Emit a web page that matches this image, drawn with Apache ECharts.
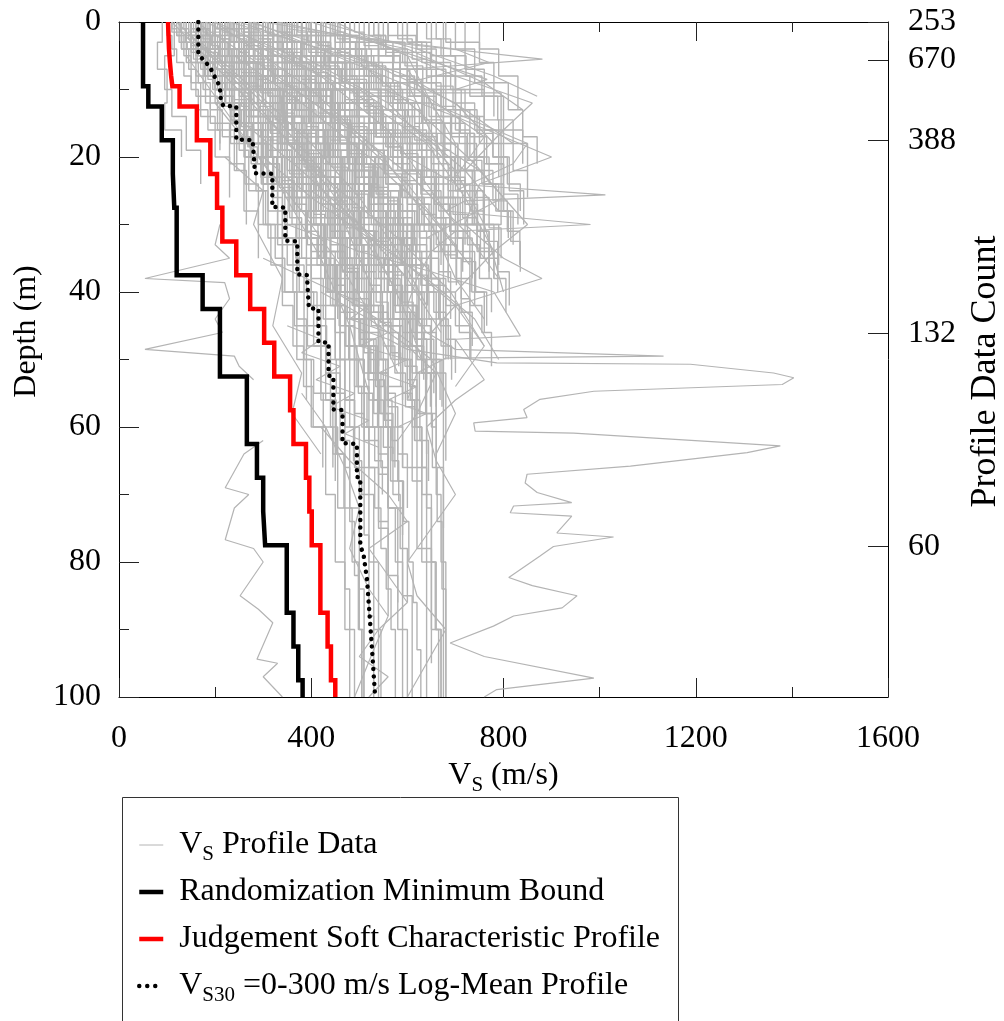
<!DOCTYPE html>
<html>
<head>
<meta charset="utf-8">
<script src="https://cdn.jsdelivr.net/npm/echarts@6/dist/echarts.min.js"></script>
<style>
  html, body { margin: 0; padding: 0; background: #fff; }
  #chart { width: 1004px; height: 1021px; }
</style>
</head>
<body>
<div id="chart"></div>
<script>
// ---- Randomization minimum bound (layer tops in m, Vs in m/s) ----
const minBoundTops = [0, 9.5, 12.5, 17.5, 22.5, 27.5, 37.5, 42.5, 52.5, 62.5, 67.5, 72.5, 77.5, 87.5, 92.5, 97.5, 100];
const minBoundVs   = [50, 61, 89, 112, 115, 120, 174, 210, 266, 287, 300, 304, 349, 363, 373, 382];

// ---- Judgement soft characteristic profile ----
const softCurveDepths = [0, 2, 4, 6, 8, 9.5];
const softCurveVs     = [102, 103, 104, 106, 108.5, 111];
const softLayerTops = [9.5, 12.5, 17.5, 22.5, 27.5, 32.5, 37.5, 42.5, 47.5, 52.5, 57.5, 62.5, 67.5, 72.5, 77.5, 87.5, 92.5, 97.5, 100];
const softLayerVs   = [126, 162, 190, 204, 215, 244, 273, 302, 323, 356, 363, 389, 396, 401, 419, 434, 441, 450];

// ---- Vs30 = 0-300 m/s log-mean profile (vertices) ----
const logMeanDepths = [0, 4.6, 5.1, 6.0, 6.8, 8.1, 8.8, 9.8, 11.7, 12.4, 12.5, 17.4, 17.5, 22.4, 22.5, 27.4, 27.5, 32.4, 32.5, 37.4, 37.5, 42.4, 42.5, 47.4, 47.5, 52.4, 52.5, 57.4, 57.5, 62.4, 62.5, 67.4, 67.5, 77.5, 79, 82.6, 87.5, 92.5, 100];
const logMeanVs     = [165, 165, 169, 181, 190, 199, 205, 210, 212, 217, 244, 244, 278, 283, 319, 319, 346, 346, 371, 371, 391, 395, 415, 415, 436, 436, 446, 446, 465, 465, 495, 495, 502, 502, 509, 516, 521, 526, 533];

// ---- Profile data count (right axis) ----
const countDepths = [0, 5.6, 17.5, 46.1, 77.7];
const countLabels = ['253', '670', '388', '132', '60'];

// ---- Vs profile data, layered: [top0, vs0, top1, vs1, ..., bottom] ----
const vsLayeredProfiles = [
  [0,120, 2,135, 5,150, 9,170, 14,200, 20,230, 26],
  [0,140, 3,150, 6,175, 10,190, 15,230, 21,260, 28,290, 35],
  [0,110, 1.5,130, 4,160, 8,180, 12,210, 18],
  [0,160, 2,170, 5,190, 8,230, 13,250, 19,270, 25,310, 32,340, 40],
  [0,130, 4,145, 7,160, 11,205, 16,240, 22,265, 30],
  [0,180, 3,200, 7,220, 12,260, 18,300, 24,330, 33,370, 44,390, 56],
  [0,150, 2,165, 4,185, 7,210, 11,240, 15],
  [0,200, 2,215, 5,240, 9,270, 14,300, 20,320, 27],
  [0,170, 3,185, 6,205, 10,235, 15,275, 21,310, 28,350, 36,385, 45,420, 55,450, 68],
  [0,125, 3,140, 6,165, 9,190, 13,215, 17,245, 22],
  [0,220, 3,250, 6,290, 10,330, 16,370, 22,410, 30,440, 38],
  [0,240, 2,260, 5,300, 9,340, 14,380, 20,420, 27,460, 35,500, 45],
  [0,190, 4,230, 8,280, 13,310, 19,360, 25,400, 33],
  [0,260, 3,300, 7,350, 12,400, 18,440, 25,480, 33,510, 42,540, 52,560, 65],
  [0,210, 2,240, 5,270, 8,320, 12,360, 17,390, 23],
  [0,280, 4,320, 8,360, 13,410, 19,450, 26,490, 34],
  [0,230, 3,270, 7,310, 11,350, 16,390, 22,430, 29,470, 37,500, 47,530, 58,560, 72,590, 85,610, 100],
  [0,300, 3,340, 6,380, 10,420, 15,460, 21,500, 28],
  [0,250, 5,280, 10,330, 15,370, 20,410, 26,440, 33,470, 40,490, 48],
  [0,200, 1,230, 3,260, 6,300, 10,340, 15,380, 20],
  [0,320, 3,350, 6,390, 10,430, 15,480, 21,520, 28,560, 36],
  [0,270, 4,300, 9,340, 14,380, 21,420, 29,460, 38,480, 50,510, 62,540, 75,560, 88],
  [0,350, 2,380, 5,420, 9,460, 14,500, 20,540, 27],
  [0,180, 2,210, 5,250, 9,290, 14,330, 19],
  [0,290, 2,310, 6,350, 11,390, 17,430, 24,470, 32,520, 42,550, 54],
  [0,380, 3,420, 7,470, 12,520, 18,560, 25,600, 33],
  [0,400, 2,440, 5,490, 9,540, 15,590, 22,630, 30],
  [0,340, 4,390, 8,440, 13,490, 19,540, 26,580, 34,610, 44],
  [0,450, 3,500, 7,560, 12,610, 18,650, 25],
  [0,420, 4,470, 9,520, 15,580, 22,620, 30,650, 39,680, 50],
  [0,500, 3,540, 7,600, 12,650, 18,700, 25,720, 33],
  [0,360, 2,400, 5,450, 10,500, 16,560, 23,600, 31,640, 40,660, 52,680, 65],
  [0,550, 4,600, 9,660, 15,720, 22,760, 30],
  [0,480, 5,530, 10,590, 16,640, 23,690, 31,730, 40],
  [0,600, 3,640, 8,700, 14,760, 21,800, 28],
  [0,330, 3,370, 7,410, 12,460, 18,510, 25,550, 33,580, 42,600, 53,620, 66,640, 80,650, 95],
  [0,430, 2,470, 6,520, 11,570, 17,620, 24],
  [0,520, 4,570, 9,630, 15,690, 22,740, 30,780, 38],
  [0,650, 5,700, 10,760, 16,800, 23],
  [0,380, 6,430, 12,490, 19,540, 27,590, 36,630, 46,660, 58],
  [0,260, 5,300, 10,350, 20,400, 30,430, 40,460, 50,480, 60,500, 70,520, 80,530, 90,540, 100],
  [0,300, 4,340, 9,390, 16,440, 24,490, 33,530, 43,560, 54,590, 66,620, 78,650, 90,670, 100],
  [0,200, 3,240, 8,290, 15,330, 23,370, 32,400, 42,430, 52,460, 62,480, 72,500, 84,510, 100],
  [0,675, 100],
  [0,240, 6,280, 12,330, 20,380, 28,420, 36,450, 46,470, 56,490, 66,510, 76,520, 88,530, 100],
  [0,350, 5,400, 10,450, 17,500, 25,540, 35,570, 45,590, 55,610, 68,630, 80,640, 100],
  [0,420, 4,480, 10.5,795, 30,560, 40,600, 48],
  [0,380, 7,520, 16.5,739, 30,600, 38],
  [0,280, 3,330, 8,380, 14,430, 21,470, 30,500, 40,520, 50,540, 60,560, 72,580, 86],
  [0,150, 2,180, 6,220, 12,260, 20,300, 30,340, 40,370, 50,400, 60,430, 70,450, 80,470, 90,490, 100],
  [0,170, 1,190, 3,220, 5,250, 8,290, 12],
  [0,230, 2,260, 4,290, 7,330, 10,370, 14],
  [0,310, 2,330, 4,360, 7,400, 11,440, 16],
  [0,390, 3,410, 6,450, 10,490, 14],
  [0,470, 2,500, 5,540, 9,580, 13],
  [0,560, 3,590, 6,620, 10],
  [0,140, 2,160, 4,180, 6,200, 9,220, 12],
  [0,250, 1,270, 3,300, 5,330, 8,360, 11,400, 15,430, 20],
  [0,190, 3,210, 6,240, 9,270, 13,310, 17,350, 22,380, 27],
  [0,700, 4,740, 9,780, 14],
  [0,330, 5,360, 10,400, 15,440, 20,470, 25,500, 30],
  [0,210, 4,250, 8,300, 12,350, 17,400, 23,450, 29,490, 36],
  [0,440, 4,480, 8,540, 13,600, 19,650, 26,700, 34,740, 42],
  [0,160, 5,200, 10,240, 15,280, 20,320, 25,360, 30,400, 35,430, 40],
  [0,270, 2,290, 5,320, 9,350, 13,380, 18,420, 24,450, 31,480, 39],
  [0,90, 3,80, 7,100, 12,95, 16,130, 20],
  [0,115, 5,95, 10,110, 14,140, 19,170, 24],
  [0,185, 2,205, 4,235, 7,265, 10,300, 14,335, 18,365, 23,395, 29,420, 35],
  [0,345, 3,365, 6,395, 9,425, 13,455, 17,490, 22,520, 28,545, 34],
  [0,235, 3,255, 6,285, 10,315, 14,345, 18,380, 23,410, 28,440, 34,470, 41,500, 48],
  [0,410, 3,440, 6,470, 9,510, 13,550, 18,590, 24,610, 30],
  [0,150, 1,160, 2,175, 3,190, 4.5,205, 6,220, 8,240, 10,255, 12.5,270, 15,290, 18,310, 21],
  [0,175, 1.5,185, 3,200, 5,215, 7,235, 9,255, 11,275, 14,295, 17,320, 20,345, 24,365, 28],
  [0,205, 1,215, 2.5,230, 4,250, 6,270, 8,295, 10.5,320, 13,345, 16,370, 19,395, 23,420, 27,445, 32],
  [0,230, 1,245, 2,260, 3.5,280, 5,300, 7,325, 9,350, 11.5,375, 14,400, 17,425, 21,450, 25,475, 30],
  [0,260, 1.5,275, 3,295, 5,320, 7,345, 9.5,370, 12,395, 15,425, 18,455, 22,485, 26,510, 31,535, 37],
  [0,285, 1,300, 2.5,320, 4,345, 6,370, 8,395, 10.5,420, 13,450, 16,480, 19.5,505, 23,530, 28,555, 33],
  [0,310, 2,330, 4,355, 6,380, 8.5,410, 11,440, 14,470, 17,500, 21,530, 25,560, 30,585, 36],
  [0,335, 1.5,355, 3,380, 5,405, 7.5,435, 10,465, 13,495, 16,525, 20,555, 24,585, 29,610, 35],
  [0,365, 2,385, 4,410, 6.5,440, 9,470, 12,500, 15,530, 19,560, 23,590, 28,620, 34],
  [0,395, 1.5,415, 3.5,440, 6,470, 8.5,500, 11.5,530, 15,560, 18.5,590, 22.5,620, 27,650, 32],
  [0,425, 2,450, 4.5,480, 7,510, 10,540, 13,570, 16.5,600, 20,630, 24,660, 29],
  [0,455, 2,480, 4,505, 6.5,535, 9,565, 12,595, 15.5,625, 19,655, 23,685, 28],
  [0,490, 1.5,510, 3.5,540, 6,570, 9,600, 12,630, 15,660, 19,690, 23,720, 27],
  [0,530, 2,555, 5,585, 8,615, 11,645, 14,675, 18,705, 22,735, 26],
  [0,580, 2.5,610, 5.5,640, 9,670, 12.5,700, 16,730, 20,760, 25],
  [0,620, 3,650, 6,690, 10,720, 14,750, 18,790, 23],
  [0,680, 3,720, 7,760, 11,800, 16,840, 21],
  [0,750, 4,790, 8,830, 13],
  [0,135, 1,145, 2.5,155, 4,170, 6,185, 8,200, 10,220, 12.5,240, 15,260, 18],
  [0,100, 2,110, 4,120, 6,135, 8,150, 10,165, 13,185, 16,210, 19],
  [0,165, 2,180, 4,200, 7,225, 10,250, 13,280, 16,305, 20,330, 24,355, 29,380, 35,400, 42],
  [0,195, 2,210, 4,235, 6,260, 9,290, 12,320, 15,350, 18,380, 22,410, 26,440, 31,465, 37,490, 44],
  [0,245, 3,270, 6,300, 9,335, 12,365, 16,400, 20,430, 25,460, 30,490, 36,515, 43,540, 50],
  [0,300, 2,320, 5,350, 8,385, 11,420, 14,455, 18,490, 22,520, 27,550, 33,575, 40,600, 47],
  [0,355, 3,380, 6,410, 9,445, 13,480, 17,515, 21,550, 26,580, 32,610, 38,640, 45],
  [0,410, 3,435, 6,465, 9,500, 13,535, 17,570, 21,605, 26,635, 31,665, 37,690, 44],
  [0,470, 3,500, 6,535, 10,570, 14,605, 18,640, 22,675, 27,705, 32,735, 38],
  [0,540, 3,570, 7,605, 11,640, 15,675, 20,710, 25,745, 31,770, 37],
  [0,220, 4,260, 8,300, 12,340, 17,380, 22,410, 28,440, 34,470, 40,500, 46,520, 52,545, 58,570, 64],
  [0,270, 5,310, 10,350, 15,390, 20,430, 26,460, 32,490, 38,515, 44,540, 50,560, 57,580, 64,600, 72],
  [0,320, 4,360, 9,400, 14,440, 19,480, 25,510, 31,540, 37,570, 44,595, 51,620, 58,640, 66],
  [0,190, 5,230, 10,270, 15,310, 20,345, 26,375, 32,400, 38,425, 44,450, 50,470, 56,490, 62],
  [0,390, 5,430, 10,470, 15,510, 21,550, 27,580, 33,610, 40,635, 47,655, 55],
  [0,250, 6,290, 12,330, 18,370, 24,400, 30,420, 36,445, 42,470, 48,495, 54,520, 60,540, 67,560, 74],
  [0,360, 6,400, 12,450, 18,500, 24,540, 30,570, 36,600, 42,620, 50,640, 58,660, 66,675, 75],
  [0,280, 7,330, 14,380, 21,420, 28,455, 35,485, 42,510, 49,530, 56,550, 63,570, 70,585, 78,600, 86],
  [0,310, 8,360, 16,410, 24,450, 32,480, 40,500, 48,520, 56,540, 64,560, 72,575, 80,590, 90,600, 100],
  [0,230, 6,270, 12,320, 18,360, 26,400, 34,430, 42,460, 50,490, 58,510, 66,540, 74,560, 82,580, 90,590, 100],
  [0,400, 8,450, 16,500, 24,540, 32,570, 40,590, 50,610, 60,630, 70,650, 80,660, 90,670, 100],
  [0,340, 10,380, 20,420, 30,460, 40,490, 50,510, 60,520, 70,530, 80,540, 90,545, 100],
  [0,270, 5,310, 10,350, 18,390, 26,420, 34,440, 42,450, 50,460, 58,470, 66,480, 74,490, 82,500, 90,505, 100],
  [0,450, 10,500, 20,550, 30,600, 40,630, 50,650, 60,660, 70,670, 80,680, 100],
  [0,290, 12,340, 24,390, 36,420, 48,440, 60,455, 72,470, 84,480, 100],
  [0,155, 1.5,170, 3,185, 4.5,200, 6,215, 7.5,230, 9,250, 11,270, 13,290, 15,310, 17.5,330, 20,350, 23,370, 26,390, 30],
  [0,215, 1.5,230, 3,250, 4.5,270, 6,290, 8,310, 10,335, 12,360, 14,385, 16.5,410, 19,435, 22,460, 25,485, 28,505, 32,525, 36],
  [0,275, 1.5,295, 3,315, 5,340, 7,365, 9,390, 11,415, 13.5,445, 16,475, 19,505, 22,535, 25.5,560, 29,585, 33,605, 38],
  [0,340, 1.5,360, 3,385, 5,410, 7,440, 9,470, 11.5,500, 14,530, 17,560, 20,590, 23.5,620, 27,645, 31,670, 36],
  [0,400, 2,425, 4,455, 6,485, 8.5,515, 11,545, 14,575, 17,605, 20,635, 24,665, 28,690, 32,715, 37],
  [0,470, 2,495, 4,525, 6.5,555, 9,585, 12,615, 15,645, 18,675, 22,705, 26,735, 30,760, 35],
  [0,560, 2,590, 4.5,620, 7,650, 10,680, 13,710, 16.5,740, 20,770, 24,800, 28,820, 33],
  [0,640, 2.5,670, 5,700, 8,730, 11,760, 14.5,790, 18,820, 22,850, 26],
  [0,720, 3,750, 6,780, 9,810, 13,840, 17,870, 21],
  [0,180, 2,195, 4,215, 6,240, 8,265, 10,290, 12.5,315, 15,340, 18,365, 21,390, 24,415, 28,440, 32,465, 37,490, 42,510, 48],
  [0,210, 2.5,230, 5,255, 7.5,285, 10,315, 13,345, 16,375, 19,405, 22,435, 26,465, 30,495, 34,520, 39,545, 44,565, 50],
  [0,250, 2,270, 4,295, 6.5,325, 9,355, 12,385, 15,415, 18,445, 21.5,475, 25,505, 29,535, 33,560, 38,585, 43,605, 49],
  [0,290, 2.5,315, 5,345, 8,375, 11,405, 14,440, 17.5,475, 21,510, 25,540, 29,570, 34,595, 39,620, 45],
  [0,330, 2,350, 4.5,380, 7,415, 10,450, 13,485, 16.5,520, 20,555, 24,585, 28,615, 33,640, 38,665, 44],
  [0,370, 2,395, 4.5,425, 7,460, 10,495, 13,530, 16.5,565, 20,600, 24,630, 28.5,660, 33,685, 38],
  [0,440, 2,465, 4,495, 7,525, 10,560, 13,595, 16.5,630, 20,665, 24,695, 28.5,725, 33,750, 38,775, 43],
  [0,510, 2.5,540, 5,570, 8,600, 11,635, 14.5,670, 18,705, 22,740, 26,770, 30.5,795, 35],
  [0,600, 3,630, 6,660, 9.5,695, 13,730, 17,765, 21,800, 25.5,830, 30],
  [0,130, 1,140, 2,150, 3.5,165, 5,180, 7,195, 9,215, 11,235, 13,255, 15.5,280, 18,305, 21,330, 24],
  [0,145, 1.5,160, 3,175, 5,195, 7,215, 9,240, 11.5,265, 14,290, 17,315, 20,340, 23.5,365, 27,390, 31,415, 35],
  [0,165, 1,175, 2.5,190, 4,210, 6,230, 8,255, 10.5,280, 13,305, 16,330, 19,355, 22.5,380, 26,405, 30,430, 34,450, 39,470, 44],
  [0,195, 1.5,210, 3,228, 5,250, 7,275, 9.5,300, 12,325, 14.5,350, 17.5,375, 20.5,400, 24,425, 28,450, 32,475, 36.5,500, 41,520, 46,540, 51],
  [0,225, 2,240, 4,262, 6,285, 8.5,310, 11,338, 13.5,365, 16.5,392, 19.5,420, 23,448, 26.5,475, 30.5,500, 35,525, 40,548, 45,570, 50,590, 56],
  [0,255, 1.5,272, 3.5,295, 5.5,320, 8,348, 10.5,376, 13,405, 16,434, 19,462, 22,490, 25.5,518, 29,545, 33,570, 37.5,595, 42,618, 47,640, 53],
  [0,315, 2,335, 4,360, 6.5,388, 9,418, 12,448, 15,478, 18,508, 21.5,538, 25,565, 29,592, 33,618, 37.5,642, 42],
  [0,380, 2,400, 4,428, 6.5,458, 9,490, 12,522, 15,555, 18.5,588, 22,620, 26,650, 30,678, 34.5,702, 39],
  [0,455, 2.5,480, 5,510, 8,545, 11,580, 14,615, 17.5,650, 21,685, 25,715, 29,745, 33.5,770, 38],
  [0,530, 2,555, 4.5,585, 7,620, 10,655, 13,690, 16.5,725, 20,760, 24,790, 28,815, 32.5,835, 37],
  [0,260, 4,290, 8,325, 12,360, 16,395, 20,425, 25,455, 30,480, 35,505, 40,525, 45,545, 50,560, 55,575, 60,590, 66],
  [0,300, 4,330, 8,365, 12,400, 16,435, 20,465, 25,495, 30,520, 35,545, 40,565, 45,585, 50,600, 56,615, 62,630, 68],
  [0,340, 5,375, 10,415, 15,455, 20,490, 25,520, 30,545, 35,570, 40,590, 46,610, 52,625, 58,640, 64],
  [0,210, 4,245, 8,280, 12,315, 16,345, 20,375, 25,400, 30,425, 35,448, 40,470, 45,490, 50,510, 55,528, 60,545, 66,560, 72],
  [0,240, 3,265, 6,295, 10,330, 14,362, 18,392, 22,420, 27,448, 32,472, 37,495, 42,515, 47,535, 53,552, 59,568, 65,582, 71],
  [0,420, 4,455, 8,495, 12,535, 17,570, 22,600, 27,625, 32,648, 38,668, 44,685, 50],
  [0,480, 4,515, 8,555, 13,595, 18,630, 23,660, 29,690, 35,712, 41,730, 47],
  [0,320, 5,355, 10,395, 15,430, 20,460, 26,485, 32,505, 38,525, 44,540, 50,555, 56,568, 62,580, 68,592, 74,603, 80,612, 86,620, 93,628, 100],
  [0,260, 6,300, 12,340, 18,375, 24,405, 30,430, 36,452, 42,472, 48,490, 54,505, 60,520, 66,532, 72,545, 78,556, 84,566, 90,575, 100],
  [0,380, 6,420, 12,460, 18,495, 24,525, 30,550, 36,572, 42,590, 48,605, 54,618, 60,630, 66,640, 72,650, 80,658, 90,665, 100],
  [0,430, 7,470, 14,510, 21,545, 28,575, 35,600, 42,620, 50,638, 58,652, 66,662, 74,672, 84,680, 100],
  [0,220, 8,260, 16,300, 24,340, 32,375, 40,405, 48,430, 56,452, 64,470, 72,485, 80,498, 90,508, 100],
  [0,110, 1,120, 2,130, 3,142, 4,155, 5.5,170, 7,185, 8.5,200, 10,215, 12,232, 14,250, 16,268, 18.5,288, 21,308, 24],
  [0,128, 1.5,138, 3,150, 4.5,163, 6,178, 8,195, 10,213, 12,232, 14.5,252, 17,273, 20,295, 23,318, 26,340, 30],
  [0,172, 1,182, 2,193, 3.5,207, 5,222, 6.5,238, 8,255, 10,274, 12,294, 14,315, 16.5,337, 19,360, 22,383, 25,405, 28.5,428, 32],
  [0,238, 1,250, 2.5,266, 4,283, 5.5,302, 7,322, 9,344, 11,367, 13,390, 15.5,414, 18,438, 21,462, 24,486, 27.5,510, 31,532, 35,552, 40],
  [0,305, 1.5,322, 3,342, 4.5,363, 6,385, 8,408, 10,432, 12,456, 14.5,482, 17,508, 20,534, 23,560, 26.5,585, 30,608, 34,630, 39],
  [0,372, 1.5,392, 3,414, 5,438, 7,463, 9,489, 11,516, 13.5,544, 16,572, 19,600, 22,628, 25.5,655, 29,680, 33,702, 38],
  [0,445, 1.5,468, 3,492, 5,518, 7,545, 9,573, 11.5,602, 14,632, 17,662, 20,692, 23.5,720, 27,746, 31,770, 36],
  [0,520, 2,545, 4,572, 6,600, 8.5,630, 11,660, 14,692, 17,724, 20.5,755, 24,784, 28,810, 32],
  [0,590, 2,618, 4.5,648, 7,680, 10,712, 13,745, 16.5,778, 20,808, 24,835, 28],
  [0,660, 2.5,690, 5,722, 8,755, 11,788, 14.5,820, 18,850, 22],
  [0,285, 3,315, 6,350, 9,388, 12,425, 15,460, 18,495, 21,528, 24.5,560, 28,590, 32,618, 36,644, 40,668, 45,690, 50],
  [0,200, 3,225, 6,255, 9,288, 12,320, 15,352, 18,385, 21.5,418, 25,450, 29,480, 33,508, 37,535, 41.5,560, 46,582, 51],
  [0,350, 3,378, 6,410, 9,445, 12,480, 15.5,516, 19,552, 22.5,588, 26,622, 30,655, 34,685, 38.5,712, 43,735, 48],
  [0,410, 3,440, 6,474, 9,510, 12.5,548, 16,586, 19.5,622, 23,656, 27,688, 31,716, 35.5,742, 40,765, 45],
  [0,480, 3,512, 6,548, 9.5,586, 13,625, 16.5,662, 20,698, 24,730, 28,760, 32.5,788, 37,812, 42],
  [0,560, 3,595, 6.5,632, 10,670, 14,708, 18,744, 22,778, 26.5,808, 31,834, 36],
  [0,620, 4,660, 8,700, 12,740, 16,778, 20,812, 25,842, 30],
  [0,170, 4,200, 8,235, 12,270, 16,305, 20,338, 24,370, 28,400, 32,428, 36,455, 40,480, 44,503, 48,524, 52],
  [0,230, 4,262, 8,298, 12,335, 16,370, 20,404, 24,436, 28,466, 32,494, 36,520, 40,544, 44.5,566, 49,586, 54],
  [0,275, 4,310, 8,350, 12,390, 16,428, 20,464, 24,498, 28,530, 32.5,560, 37,588, 41.5,612, 46,634, 51],
  [0,150, 3,170, 6,195, 9,222, 12,250, 15,278, 18,306, 21,334, 24.5,362, 28,388, 32,412, 36,434, 40,455, 44],
  [0,320, 5,360, 10,405, 15,450, 20,492, 25,530, 30,565, 35,596, 40,624, 45,648, 50,668, 56],
  [0,460, 5,500, 10,545, 15,590, 20,632, 25,670, 30,704, 35,734, 40,760, 46],
  [0,540, 5,585, 10,632, 15,678, 20,720, 25,758, 30,790, 36],
  [0,260, 5,300, 10,345, 15,390, 20,430, 24,465, 28,500, 32,530, 36,560, 40,585, 44,610, 48,630, 52,648, 57],
  [0,300, 5,345, 10,395, 15,445, 19,490, 23,530, 27,565, 31,598, 35,628, 39,655, 43,680, 47,700, 52],
  [0,340, 5,390, 10,445, 14,500, 18,550, 22,595, 26,635, 30,670, 34,702, 38,730, 42,755, 46,775, 51],
  [0,380, 5,435, 10,495, 14,555, 18,610, 22,660, 26,705, 30,745, 34,780, 38,805, 43],
  [0,230, 4,265, 8,305, 12,345, 16,385, 20,420, 24,455, 28,488, 32,518, 36,546, 40,572, 44,596, 48,618, 52,638, 57],
  [0,280, 4,318, 8,360, 12,404, 16,446, 20,486, 24,522, 28,556, 32,588, 36,618, 40,645, 44,670, 48,692, 53],
  [0,200, 5,235, 10,275, 15,318, 20,360, 24,398, 28,434, 32,466, 36,496, 40,524, 44,550, 48,574, 52,596, 57,615, 62],
  [0,250, 5,290, 10,335, 15,380, 19,422, 23,462, 27,498, 31,532, 35,562, 39,590, 43,616, 47,640, 52,660, 57],
  [0,320, 6,370, 12,425, 17,478, 22,528, 26,572, 30,612, 34,648, 38,680, 42,708, 46,732, 50],
  [0,420, 6,480, 12,545, 17,605, 22,660, 26,710, 30,752, 35,788, 40],
  [0,180, 6,220, 12,265, 18,310, 23,352, 28,392, 33,428, 38,460, 43,490, 48,518, 53,542, 58],
  [0,270, 6,315, 12,365, 18,415, 23,460, 28,502, 33,540, 38,575, 43,606, 48,634, 53],
  [0,360, 7,415, 14,475, 20,532, 25,582, 30,626, 35,665, 40,700, 45,730, 50],
  [0,150, 4,180, 8,215, 12,252, 16,290, 20,328, 24,365, 28,400, 32,432, 36,462, 40,490, 44,515, 48,538, 52,560, 56],
  [0,190, 5,215, 10,240, 15,262, 20,285, 25,305, 30,325, 35,345, 40,365, 45,385, 50,405, 55,425, 60,445, 66],
  [0,210, 5,240, 10,270, 15,298, 20,322, 25,345, 30,368, 35,390, 40,412, 45,432, 50,452, 55,470, 60,488, 65,505, 70],
  [0,240, 5,272, 10,305, 15,336, 20,364, 25,390, 30,414, 35,437, 40,458, 45,478, 50,498, 55,516, 60,532, 65,548, 70],
  [0,170, 6,200, 12,232, 18,262, 24,290, 30,316, 36,340, 42,362, 48,384, 54,404, 60,424, 66],
  [0,330, 5,365, 10,400, 15,435, 20,468, 26,500, 32,530, 38,558, 44,584, 50,606, 56,626, 62,644, 68],
  [0,280, 5,310, 10,342, 15,375, 20,406, 25,435, 30,462, 36,488, 42,512, 48,534, 54,555, 60,574, 66],
  [0,360, 5,400, 10,442, 15,484, 20,524, 26,560, 32,594, 38,624, 44,650, 50,672, 57],
  [0,230, 8,262, 16,296, 24,330, 32,362, 40,392, 48,420, 56,445, 64,468, 72],
  [0,300, 10,350, 20,400, 28,440, 36,475, 44,508, 52,538, 60,565, 68,590, 76],
  [0,400, 10,455, 20,510, 28,555, 36,595, 44,630, 52,660, 60]
];

// ---- Vs profile data, point traces: [vs0, depth0, vs1, depth1, ...] ----
const vsTraceProfiles = [
  [480,45, 560,47, 600,48.5, 786,50.5, 1189,50.7, 1362,52, 1404,52.7, 1380,53.7, 988,54.7, 876,55.9, 842,57.4, 849,58.6, 738,59.4, 741,60.6, 946,60.9, 1376,62.8, 1307,63.8, 1064,65.8, 849,67, 845,68.3, 870,69.7, 942,71.2, 821,71.7, 814,72.7, 942,73.2, 911,75.7, 1029,76.3, 904,77.7, 876,79.1, 811,82.3, 860,83.5, 953,85, 922,86.8, 821,88, 779,89.5, 689,92, 760,94, 988,97.2, 786,98.9, 760,100],
  [600,20, 650,22, 700,24, 1012,25.6, 720,26.5, 680,28, 981,30, 700,31, 650,34, 620,38, 600,42, 640,46, 700,48.5, 1133,49.5, 680,49.8, 620,52, 600,56],
  [210,30, 200,33, 230,35, 54,38, 220,38.6, 230,41, 200,44, 215,46, 54,48.5, 240,49.5, 250,51, 280,53],
  [300,62, 260,64, 221,69, 270,70, 240,72, 221,76.7, 280,78, 300,80, 252,85, 290,87, 320,89, 287,94.4, 330,95, 300,97, 340,100],
  [300,0, 560,3, 881,5.5, 600,7, 650,12, 700,18],
  [400,0, 766,8.5, 700,10],
  [250,0, 500,6, 620,13, 740,21, 800,26, 640,32],
  [350,1, 700,4, 770,6, 600,9, 640,15, 690,22],
  [200,0, 400,10, 550,20, 650,30, 700,38, 760,44],
  [450,0, 600,5, 650,12, 850,18, 820,21, 700,25],
  [550,10, 700,14, 900,20, 750,24, 720,30, 800,35, 880,38, 700,42, 650,46],
  [350,30, 500,34, 650,37, 780,40, 835,46.5, 700,47, 720,49, 760,53, 700,56, 640,60, 660,65, 700,70, 650,75, 600,80, 620,85, 680,90, 640,95, 600,100],
  [420,60, 480,65, 560,70, 600,74, 520,78, 560,82, 600,86, 540,90, 500,94, 560,97, 520,100],
  [380,55, 430,60, 470,66, 500,72, 480,78, 520,84, 560,88, 530,93, 490,100],
  [160,0, 330,8, 480,16, 600,24, 700,33],
  [280,0, 620,10, 760,17, 700,23],
  [220,20, 300,25, 280,30, 340,38, 320,45, 380,52, 360,58, 420,64],
  [120,0, 260,10, 380,20, 470,30, 530,40],
  [180,0, 420,8, 560,16, 640,24, 700,30],
  [230,0, 520,6, 700,12, 780,18],
  [330,0, 600,4, 760,9, 840,13],
  [150,2, 300,12, 420,22, 520,32, 590,42, 630,50],
  [260,2, 480,10, 640,18, 720,26, 780,34],
  [500,2, 700,8, 860,12, 800,16, 720,22],
  [140,5, 240,15, 340,25, 420,35, 480,45, 520,55],
  [380,5, 560,12, 700,22, 760,30, 800,40],
  [600,15, 750,22, 850,30, 780,34, 700,40],
  [300,35, 450,40, 560,45, 650,50, 700,58, 660,64],
  [420,40, 520,44, 600,48, 660,52, 620,58, 580,62],
  [110,0, 220,8, 330,16, 430,24, 510,32, 580,40],
  [200,0, 360,5, 500,10, 620,16, 720,22, 790,28],
  [270,0, 450,4, 600,8, 720,13, 820,18],
  [420,0, 620,4, 780,8, 870,11],
  [170,3, 280,10, 400,18, 500,26, 580,34, 640,42],
  [240,5, 380,12, 520,20, 640,28, 730,36],
  [320,8, 470,15, 610,23, 720,31, 790,38],
  [260,15, 380,22, 500,30, 600,38, 670,46],
  [200,12, 290,20, 380,28, 460,36, 530,44, 580,52],
  [300,20, 400,26, 520,32, 640,38, 740,44, 790,50],
  [350,18, 460,25, 580,32, 690,40, 760,48],
  [400,25, 500,30, 600,36, 700,42, 760,48, 700,54],
  [450,40, 520,42, 480,44, 560,46, 500,48, 600,50, 540,52, 620,54, 560,56, 640,58, 580,60],
  [350,45, 420,47, 380,49, 460,51, 410,53, 490,55, 440,57, 520,59, 470,61, 540,63]
];

const FONT = '"Liberation Serif", "Times New Roman", serif';
const GRAY = '#b4b4b4';
const NAME_DATA = 'Vs Profile Data';
const NAME_MIN = 'Randomization Minimum Bound';
const NAME_SOFT = 'Judgement Soft Characteristic Profile';
const NAME_MEAN = 'Vs30 Log-Mean Profile';

// layered profile -> step vertices [vs, depth]
function stepVertices(tops, vs) {
  const pts = [];
  for (let i = 0; i < vs.length; i++) {
    pts.push([vs[i], tops[i]], [vs[i], tops[i + 1]]);
  }
  return pts;
}
function layeredToVertices(p) {
  const tops = [], vs = [];
  for (let i = 0; i < p.length; i += 2) {
    tops.push(p[i]);
    if (i + 1 < p.length) vs.push(p[i + 1]);
  }
  return stepVertices(tops, vs);
}
function traceToVertices(t) {
  const pts = [];
  for (let i = 0; i + 1 < t.length; i += 2) pts.push([t[i], t[i + 1]]);
  return pts;
}
function zipVertices(vs, depths) {
  return vs.map((v, i) => [v, depths[i]]);
}

const series = [];
vsLayeredProfiles.forEach(p => series.push({
  name: NAME_DATA, type: 'line', data: layeredToVertices(p), symbol: 'none', silent: true, z: 2,
  itemStyle: { color: GRAY }, lineStyle: { color: GRAY, width: 1.4 }
}));
vsTraceProfiles.forEach(t => series.push({
  name: NAME_DATA, type: 'line', data: traceToVertices(t), symbol: 'none', silent: true, z: 2,
  itemStyle: { color: GRAY }, lineStyle: { color: GRAY, width: 1.2 }
}));
series.push({
  name: NAME_MIN, type: 'line', data: stepVertices(minBoundTops, minBoundVs), symbol: 'none', z: 3,
  itemStyle: { color: '#000' }, lineStyle: { color: '#000', width: 4.5, join: 'miter' }
});
series.push({
  name: NAME_SOFT, type: 'line',
  data: zipVertices(softCurveVs, softCurveDepths).concat(stepVertices(softLayerTops, softLayerVs)),
  symbol: 'none', z: 4,
  itemStyle: { color: '#ff0000' }, lineStyle: { color: '#ff0000', width: 4.5, join: 'miter' }
});
series.push({
  name: NAME_MEAN, type: 'line', data: zipVertices(logMeanVs, logMeanDepths), symbol: 'none', z: 5,
  itemStyle: { color: '#000' }, lineStyle: { color: '#000', width: 4.5, type: [0.001, 7.5], cap: 'round' }
});

const rich = {
  t: { fontFamily: FONT, fontSize: 32, color: '#000', lineHeight: 40, verticalAlign: 'middle' },
  s: { fontFamily: FONT, fontSize: 21, color: '#000', lineHeight: 20, verticalAlign: 'bottom' }
};
const legendText = {};
legendText[NAME_DATA] = '{t|V}{s|S}{t| Profile Data}';
legendText[NAME_MIN] = '{t|Randomization Minimum Bound}{s| }';
legendText[NAME_SOFT] = '{t|Judgement Soft Characteristic Profile}{s| }';
legendText[NAME_MEAN] = '{t|V}{s|S30}{t| =0-300 m/s Log-Mean Profile}';

const axisLineStyle = { color: '#000', width: 1 };
const tickStyle = { color: '#222', width: 1 };

const option = {
  animation: false,
  backgroundColor: '#fff',
  grid: { left: 119, right: 116, top: 22, bottom: 324, containLabel: false, outerBoundsMode: 'none' },
  xAxis: [
    {
      type: 'value', position: 'bottom', min: 0, max: 1600, interval: 400,
      name: '{t|V}{s|S}{t| (m/s)}', nameLocation: 'middle', nameGap: 54,
      nameTextStyle: { rich: rich },
      axisLine: { show: true, onZero: false, lineStyle: axisLineStyle },
      axisTick: { inside: true, length: 19, lineStyle: tickStyle },
      minorTick: { show: true, splitNumber: 2, length: 10, lineStyle: tickStyle },
      axisLabel: { fontFamily: FONT, fontSize: 32, color: '#000', margin: 26, formatter: v => String(v) },
      splitLine: { show: false }
    },
    {
      type: 'value', position: 'top', min: 0, max: 1600, interval: 400,
      axisLine: { show: true, onZero: false, lineStyle: axisLineStyle },
      axisTick: { inside: true, length: 19, lineStyle: tickStyle },
      minorTick: { show: true, splitNumber: 2, length: 10, lineStyle: tickStyle },
      axisLabel: { show: false },
      splitLine: { show: false }
    }
  ],
  yAxis: [
    {
      type: 'value', position: 'left', inverse: true, min: 0, max: 100, interval: 20,
      name: 'Depth (m)', nameLocation: 'middle', nameRotate: 90, nameGap: 72,
      nameTextStyle: { fontFamily: FONT, fontSize: 32, color: '#000', padding: [0, 0, 0, 56] },
      axisLine: { show: true, onZero: false, lineStyle: axisLineStyle },
      axisTick: { inside: true, length: 20, lineStyle: tickStyle },
      minorTick: { show: true, splitNumber: 2, length: 10, lineStyle: tickStyle },
      axisLabel: { fontFamily: FONT, fontSize: 32, color: '#000', margin: 18 },
      splitLine: { show: false }
    },
    {
      type: 'value', position: 'right', inverse: true, min: 0, max: 100,
      name: 'Profile Data Count', nameLocation: 'middle', nameRotate: 90, nameGap: 80,
      nameTextStyle: { fontFamily: FONT, fontSize: 36, color: '#000', padding: [0, 24, 0, 0] },
      axisLine: { show: true, onZero: false, lineStyle: axisLineStyle },
      axisTick: { inside: true, length: 20, lineStyle: tickStyle, customValues: countDepths },
      axisLabel: {
        fontFamily: FONT, fontSize: 32, color: '#000', margin: 20,
        customValues: countDepths,
        formatter: function (v) {
          let best = 0;
          countDepths.forEach((d, i) => { if (Math.abs(d - v) < Math.abs(countDepths[best] - v)) best = i; });
          return countLabels[best];
        }
      },
      splitLine: { show: false }
    }
  ],
  legend: {
    orient: 'vertical', left: 137, top: 829, padding: 0, itemGap: 11,
    itemWidth: 24, itemHeight: 14, selectedMode: false,
    textStyle: { fontFamily: FONT, fontSize: 32, color: '#000', padding: [0, 0, 0, 11], rich: rich },
    formatter: function (name) { return legendText[name]; },
    data: [
      { name: NAME_DATA, itemStyle: { opacity: 0 }, lineStyle: { width: 1, color: GRAY } },
      { name: NAME_MIN, itemStyle: { opacity: 0 }, lineStyle: { width: 4.5, color: '#000' } },
      { name: NAME_SOFT, itemStyle: { opacity: 0 }, lineStyle: { width: 4.5, color: '#ff0000' } },
      { name: NAME_MEAN, itemStyle: { opacity: 0 }, lineStyle: { width: 4.5, color: '#000', type: [0.001, 8], cap: 'round' } }
    ]
  },
  graphic: [
    {
      type: 'rect', left: 120, top: 795, silent: true, z: 0,
      shape: { x: 0, y: 0, width: 556, height: 260 },
      style: { fill: 'none', stroke: '#333', lineWidth: 1 }
    }
  ],
  series: series
};

const chart = echarts.init(document.getElementById('chart'), null, { renderer: 'canvas' });
chart.setOption(option);
</script>
</body>
</html>
